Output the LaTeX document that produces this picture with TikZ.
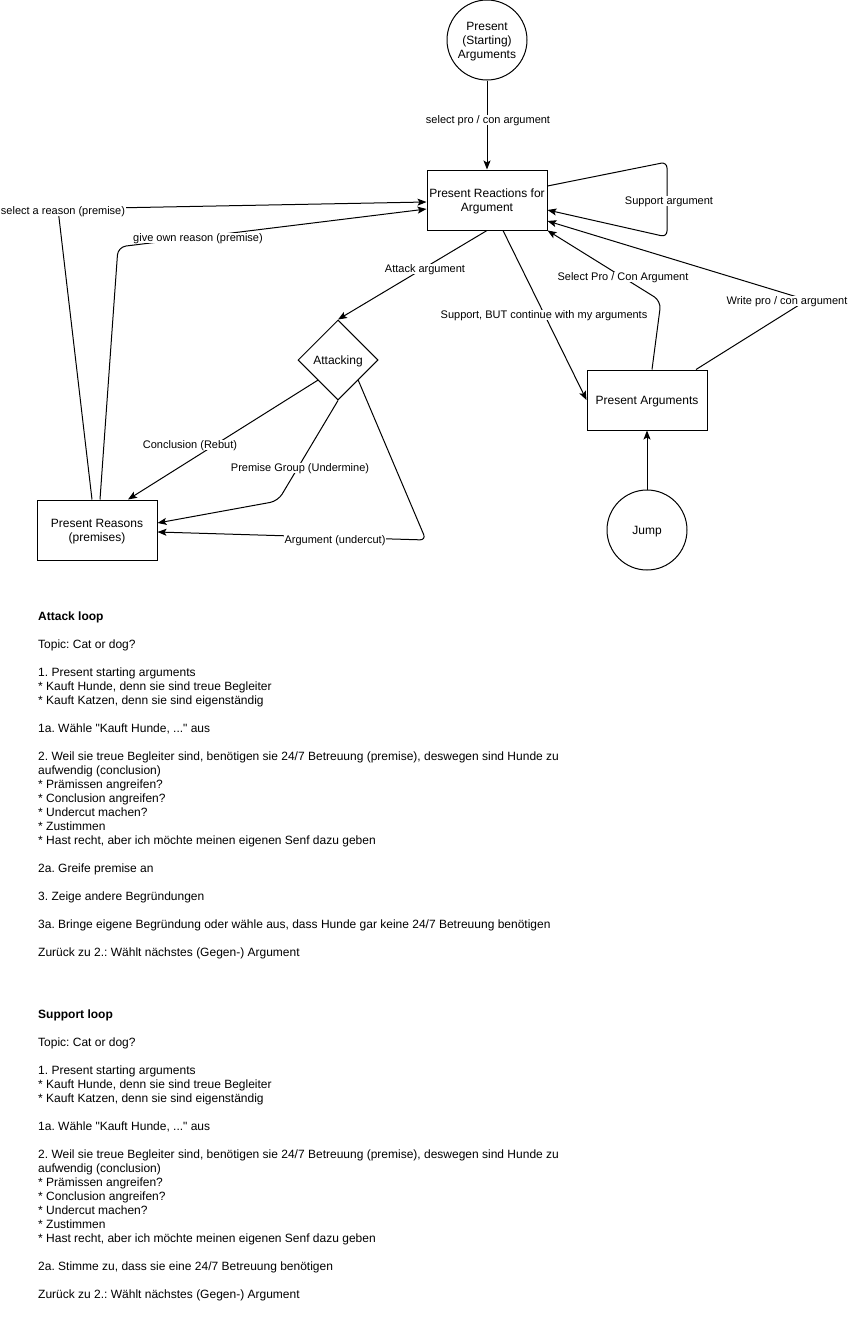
\documentclass[tikz,border=0pt]{standalone}
\usepackage{fontspec}
\setmainfont{Liberation Sans}[Ligatures=TeXOff]
\frenchspacing
\usetikzlibrary{shapes.geometric,arrows.meta,calc}
\begin{document}
\begin{tikzpicture}[x=1pt,y=-1pt,
  every node/.style={font=\fontsize{12}{14}\selectfont, text=black, text depth=0pt},
  box/.style={draw, line width=1pt, rectangle, minimum width=120pt, minimum height=60pt, inner sep=0pt, align=center},
  circ/.style={draw, line width=1pt, circle, minimum size=80pt, inner sep=0pt, align=center},
  dia/.style={draw, line width=1pt, diamond, minimum width=80pt, minimum height=80pt, inner sep=0pt, aspect=1},
  lbl/.style={fill=white, inner sep=1pt, font=\fontsize{11}{13}\selectfont},
  conn/.style={draw, line width=1pt, -{Stealth[length=9pt,width=7pt,inset=2pt]}},
  txt/.style={anchor=north west, inner sep=0pt, align=left}
]
\useasboundingbox[fill=white] (0,0) rectangle (849,1341);

% nodes
\node[circ] (start) at (487,40) {Present\\(Starting)\\Arguments};
\node[box] (react) at (487,200) {Present Reactions for\\Argument};
\node[dia] (attacking) at (338,360) {Attacking};
\node[box] (reasons) at (97,530) {Present Reasons\\(premises)};
\node[box] (args) at (647,400) {Present Arguments};
\node[circ] (jump) at (647,530) {Jump};

% free points
\coordinate (s1) at (667,162);
\coordinate (s2) at (667,237);
\coordinate (w1) at (807,300);
\coordinate (p1) at (661,301);
\coordinate (u1) at (278,501);
\coordinate (c1) at (426,540);
\coordinate (r1) at (58,209);
\coordinate (g1) at (118,247);

% connectors
\draw[conn] (start) -- (react);
\node[lbl] (l1) at (488,120) {select pro / con argument};

\draw[conn, rounded corners=6pt] ($(react.east)+(0,-14)$) -- (s1) -- (s2) -- ($(react.east)+(0,10)$);
\node[lbl] (l2) at (669,201) {Support argument};

\draw[conn] ($(args.north)+(49,0)$) -- (w1) -- ($(react.east)+(0,21)$);
\node[lbl] (l3) at (787,301) {Write pro / con argument};

\draw[conn, rounded corners=8pt] ($(args.north)+(5,0)$) -- (p1) -- (react.south east);
\node[lbl] (l4) at (623,277) {Select Pro / Con Argument};

\draw[conn] ($(react.south)+(16,0)$) -- (args.west);
\node[lbl] (l5) at (544,315) {Support, BUT continue with my arguments};

\draw[conn] (jump) -- (args);

\draw[conn] (react.south) -- (attacking.north);
\node[lbl] (l6) at (425,269) {Attack argument};

\draw[conn] (attacking.south west) -- ($(reasons.north)+(31,0)$);
\node[lbl] (l7) at (190,445) {Conclusion (Rebut)};

\draw[conn, rounded corners=8pt] (attacking.south) -- (u1) -- ($(reasons.east)+(0,-7)$);
\node[lbl] (l8) at (300,468) {Premise Group (Undermine)};

\draw[conn, rounded corners=6pt] (attacking.south east) -- (c1) -- ($(reasons.east)+(0,2)$);
\node[lbl] (l9) at (335,540) {Argument (undercut)};

\draw[conn] ($(reasons.north)+(-5,0)$) -- (r1) -- ($(react.west)+(0,2)$);
\node[lbl] (l10) at (63,211) {select a reason (premise)};

\draw[conn, rounded corners=8pt] ($(reasons.north)+(3,0)$) -- (g1) -- ($(react.west)+(0,9)$);
\node[lbl] (l11) at (198,238) {give own reason (premise)};

% text blocks
\node[txt] (attacktext) at (38,612) {\textbf{Attack loop}\\[14pt]
Topic: Cat or dog?\\[14pt]
1. Present starting arguments\\
* Kauft Hunde, denn sie sind treue Begleiter\\
* Kauft Katzen, denn sie sind eigenständig\\[14pt]
1a. Wähle "Kauft Hunde, ..." aus\\[14pt]
2. Weil sie treue Begleiter sind, benötigen sie 24/7 Betreuung (premise), deswegen sind Hunde zu\\
aufwendig (conclusion)\\
* Prämissen angreifen?\\
* Conclusion angreifen?\\
* Undercut machen?\\
* Zustimmen\\
* Hast recht, aber ich möchte meinen eigenen Senf dazu geben\\[14pt]
2a. Greife premise an\\[14pt]
3. Zeige andere Begründungen\\[14pt]
3a. Bringe eigene Begründung oder wähle aus, dass Hunde gar keine 24/7 Betreuung benötigen\\[14pt]
Zurück zu 2.: Wählt nächstes (Gegen-) Argument};

\node[txt] (supporttext) at (38,1010) {\textbf{Support loop}\\[14pt]
Topic: Cat or dog?\\[14pt]
1. Present starting arguments\\
* Kauft Hunde, denn sie sind treue Begleiter\\
* Kauft Katzen, denn sie sind eigenständig\\[14pt]
1a. Wähle "Kauft Hunde, ..." aus\\[14pt]
2. Weil sie treue Begleiter sind, benötigen sie 24/7 Betreuung (premise), deswegen sind Hunde zu\\
aufwendig (conclusion)\\
* Prämissen angreifen?\\
* Conclusion angreifen?\\
* Undercut machen?\\
* Zustimmen\\
* Hast recht, aber ich möchte meinen eigenen Senf dazu geben\\[14pt]
2a. Stimme zu, dass sie eine 24/7 Betreuung benötigen\\[14pt]
Zurück zu 2.: Wählt nächstes (Gegen-) Argument};
\end{tikzpicture}
\end{document}
